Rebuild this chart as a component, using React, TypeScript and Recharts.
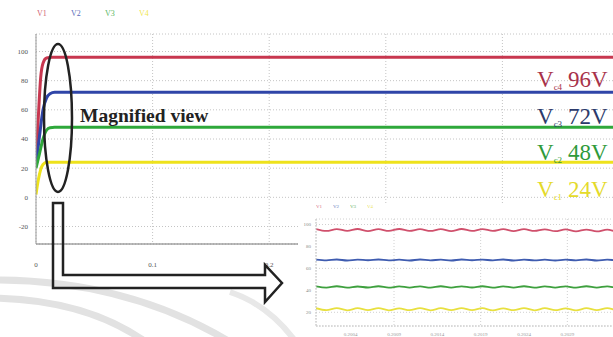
import React from 'react';
import { LineChart, Line, XAxis, YAxis, CartesianGrid } from 'recharts';

// ---------------------------------------------------------------------------
// Data
// ---------------------------------------------------------------------------

const seriesNames = ['V1', 'V2', 'V3', 'V4'];
const seriesColors = ['#c8374f', '#2f45a8', '#2ea83a', '#eee21c'];

// start-up transient, time in seconds
const v1Time = [0, 0.002, 0.004, 0.006, 0.009, 0.014, 0.5];
const v1Vals = [22, 55, 82, 92, 95.5, 96, 96];
const v2Time = [0, 0.003, 0.006, 0.009, 0.012, 0.016, 0.5];
const v2Vals = [22, 42, 60, 68, 71, 72, 72];
const v3Time = [0, 0.003, 0.006, 0.009, 0.012, 0.016, 0.5];
const v3Vals = [20, 30, 40, 46, 47.7, 48, 48];
const v4Time = [0, 0.002, 0.004, 0.006, 0.009, 0.5];
const v4Vals = [2, 12, 19, 22.5, 24, 24];

const xTicks = [0, 0.1, 0.2, 0.3, 0.4];
const yTicks = [-20, 0, 20, 40, 60, 80, 100];

// magnified view (ripple), samples every 0.12 ms from 0.2 s
const insetStart = 0.2;
const insetStep = 0.00012;
const insetV1 = [95.9, 94.1, 95.8, 94.2, 95.9, 94.0, 95.8, 94.1, 95.9, 94.2, 95.7, 94.1, 95.8, 94.0, 95.9, 94.1, 95.8, 94.2, 95.7, 94.0, 95.8, 94.1, 95.6, 93.9, 95.5, 93.8, 95.4, 93.7, 95.3, 93.6, 95.2];
const insetV2 = [68.0, 67.3, 68.1, 67.2, 68.0, 67.4, 68.1, 67.3, 67.9, 67.2, 68.1, 67.3, 68.0, 67.2, 68.1, 67.4, 68.0, 67.3, 68.1, 67.2, 68.0, 67.3, 67.9, 67.2, 68.0, 67.3, 68.1, 67.2, 68.0, 67.3, 68.0];
const insetV3 = [43.6, 42.5, 43.7, 42.4, 43.5, 42.6, 43.7, 42.4, 43.6, 42.5, 43.6, 42.4, 43.7, 42.5, 43.6, 42.6, 43.7, 42.4, 43.6, 42.5, 43.7, 42.4, 43.6, 42.5, 43.6, 42.4, 43.7, 42.5, 43.6, 42.4, 43.6];
const insetV4 = [23.7, 21.9, 23.8, 21.8, 23.7, 22.0, 23.8, 21.8, 23.6, 21.9, 23.8, 21.8, 23.7, 21.9, 23.8, 22.0, 23.7, 21.8, 23.6, 21.9, 23.8, 21.8, 23.7, 21.9, 23.6, 21.8, 23.7, 21.9, 23.8, 21.8, 23.7];
const insetXTicks = [0.2004, 0.2009, 0.2014, 0.2019, 0.2024, 0.2029];
const insetYTicks = [20, 40, 60, 80, 100];

const levelLabels = [
  { sub: 'c4', text: '96V', color: '#a8324a' },
  { sub: 'c3', text: '72V', color: '#2b3a6b' },
  { sub: 'c2', text: '48V', color: '#2e9a3a' },
  { sub: 'c1', text: '24V', color: '#e4da2a' },
];

const toPoints = (ts: number[], vs: number[]) => ts.map((t, i) => ({ t, v: vs[i] }));

const mainSeries = [
  toPoints(v1Time, v1Vals),
  toPoints(v2Time, v2Vals),
  toPoints(v3Time, v3Vals),
  toPoints(v4Time, v4Vals),
];

const insetData = insetV1.map((_, i) => ({
  t: insetStart + i * insetStep,
  v1: insetV1[i],
  v2: insetV2[i],
  v3: insetV3[i],
  v4: insetV4[i],
}));

const insetColors = ['#d0506c', '#3f5cb0', '#3ea03e', '#e8e040'];

// ---------------------------------------------------------------------------

export default function App() {
  const tickStyle = { fontSize: 7, fill: '#555', fontFamily: 'Liberation Serif, serif' };

  return (
    <div
      style={{
        position: 'absolute',
        left: 0,
        top: 0,
        width: 613,
        height: 337,
        overflow: 'hidden',
        background: '#fff',
        fontFamily: 'Liberation Serif, serif',
      }}
    >
      {/* legend */}
      <div style={{ position: 'absolute', left: 37, top: 9, display: 'flex', fontSize: 8 }}>
        {seriesNames.map((n, i) => (
          <span key={n} style={{ color: seriesColors[i], width: 34, opacity: 0.8 }}>
            {n}
          </span>
        ))}
      </div>

      {/* main chart */}
      <div style={{ position: 'absolute', left: 0, top: 0 }}>
        <LineChart width={640} height={337} margin={{ top: 34, right: 21, bottom: 63, left: 0 }}>
          <CartesianGrid stroke="#c4c4c4" strokeDasharray="1 2" />
          <XAxis
            type="number"
            dataKey="t"
            domain={[0, 0.5]}
            ticks={xTicks}
            height={30}
            tickSize={0}
            tickMargin={18}
            tick={tickStyle}
            stroke="#777"
            allowDataOverflow
          />
          <XAxis
            xAxisId="top"
            orientation="top"
            type="number"
            domain={[0, 0.5]}
            height={0}
            tick={false}
            tickLine={false}
            stroke="#999"
          />
          <YAxis
            type="number"
            domain={[-32, 112]}
            ticks={yTicks}
            width={36}
            tickSize={0}
            tickMargin={8}
            tick={tickStyle}
            stroke="#999"
            allowDataOverflow
          />
          {mainSeries.map((d, i) => (
            <Line
              key={seriesNames[i]}
              data={d}
              dataKey="v"
              type="monotone"
              stroke={seriesColors[i]}
              strokeWidth={3}
              dot={false}
              isAnimationActive={false}
            />
          ))}
        </LineChart>
      </div>

      {/* magnified inset */}
      <div
        style={{
          position: 'absolute',
          left: 298,
          top: 204,
          width: 340,
          height: 140,
          background: '#fff',
        }}
      >
        <div style={{ position: 'absolute', left: 18, top: 0, display: 'flex', fontSize: 5 }}>
          {seriesNames.map((n, i) => (
            <span key={n} style={{ color: insetColors[i], width: 17, opacity: 0.8 }}>
              {n}
            </span>
          ))}
        </div>
        <LineChart
          width={340}
          height={140}
          data={insetData}
          margin={{ top: 15, right: 10, bottom: 0, left: 0 }}
        >
          <CartesianGrid stroke="#d0d0d0" strokeDasharray="1 2" />
          <XAxis
            type="number"
            dataKey="t"
            domain={[0.2, 0.2036]}
            ticks={insetXTicks}
            height={18}
            tickSize={0}
            tickMargin={6}
            tick={{ fontSize: 5, fill: '#999' }}
            stroke="#ccc"
            strokeDasharray="2 1"
            allowDataOverflow
          />
          <XAxis
            xAxisId="top"
            orientation="top"
            type="number"
            domain={[0.2, 0.2036]}
            height={0}
            tick={false}
            tickLine={false}
            stroke="#b8c0d0"
          />
          <YAxis
            type="number"
            domain={[7.5, 105]}
            ticks={insetYTicks}
            width={18}
            tickSize={0}
            tickMargin={5}
            tick={{ fontSize: 5, fill: '#888' }}
            stroke="#ccc"
            strokeDasharray="2 1"
            allowDataOverflow
          />
          {['v1', 'v2', 'v3', 'v4'].map((k, i) => (
            <Line
              key={k}
              dataKey={k}
              type="monotone"
              stroke={insetColors[i]}
              strokeWidth={1.8}
              dot={false}
              isAnimationActive={false}
            />
          ))}
        </LineChart>
      </div>

      {/* annotations */}
      <svg
        width={613}
        height={337}
        style={{ position: 'absolute', left: 0, top: 0, pointerEvents: 'none' }}
      >
        <path d="M-5,280 Q130,280 235,345" fill="none" stroke="#e2e2e2" strokeWidth={7} />
        <path d="M-5,298 Q90,300 150,345" fill="none" stroke="#e2e2e2" strokeWidth={7} />
        <path d="M230,292 Q270,305 298,345" fill="none" stroke="#e8e8e8" strokeWidth={6} />

        <ellipse cx={58} cy={118} rx={14} ry={74} fill="none" stroke="#222" strokeWidth={2.5} />
        <path
          d="M53,203 L63,203 L63,275 L265,275 L265,265 L282,283 L265,302 L265,288 L53,288 Z"
          fill="none"
          stroke="#222"
          strokeWidth={2.5}
          strokeLinejoin="miter"
        />
        <text x={80} y={122} fontSize={19.5} fill="#222" fontFamily="Liberation Serif, serif" fontWeight={600}>
          Magnified view
        </text>

        {levelLabels.map((l, i) => (
          <text
            key={l.text}
            x={537}
            y={87 + i * 36.5}
            fontSize={23}
            fill={l.color}
            fontFamily="Liberation Serif, serif"
          >
            V
            <tspan fontSize={9} dy={3}>
              {l.sub}
            </tspan>
            <tspan dy={-3}> {l.text}</tspan>
          </text>
        ))}
      </svg>
    </div>
  );
}
